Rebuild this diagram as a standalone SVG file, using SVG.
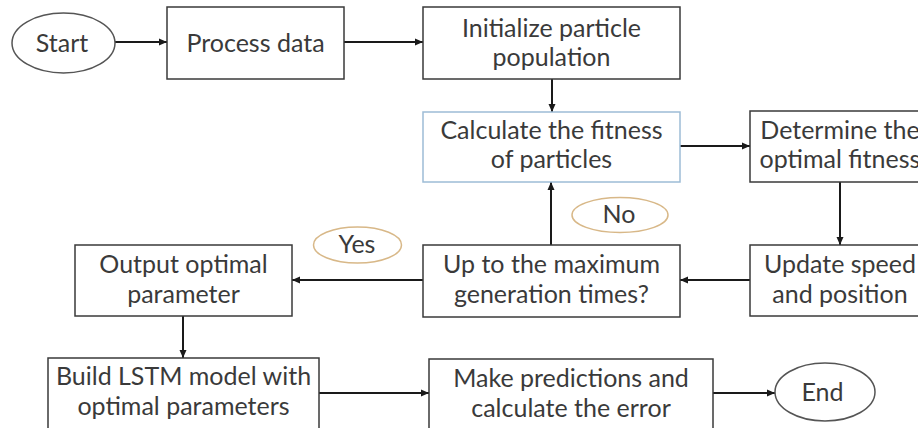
<svg xmlns="http://www.w3.org/2000/svg" width="918" height="428" viewBox="0 0 918 428">
<defs>
<style>
.box{fill:#fff;stroke:#3a3a3a;stroke-width:1.5}
.blue{stroke:#9dbcd6}
.term{fill:#fff;stroke:#555;stroke-width:1.5}
.cond{fill:#fff;stroke:#d8b888;stroke-width:1.5}
.t{font-family:Lato,"Open Sans","Noto Sans",sans-serif;font-size:25px;fill:#3a3a3a;text-anchor:middle}
.c{stroke:#1a1a1a;stroke-width:2;fill:none;marker-end:url(#ah)}
</style>
<marker id="ah" markerWidth="9" markerHeight="8" refX="8" refY="4" orient="auto" markerUnits="userSpaceOnUse">
<path d="M0,0.5 L8,4 L0,7.5 Z" fill="#1a1a1a"/>
</marker>
</defs>
<rect width="918" height="428" fill="#fff"/>
<g id="connectors">
<line class="c" x1="115" y1="42" x2="167" y2="42"/>
<line class="c" x1="344" y1="42" x2="423" y2="42"/>
<line class="c" x1="552" y1="79" x2="552" y2="112"/>
<line class="c" x1="680" y1="146" x2="750" y2="146"/>
<line class="c" x1="840" y1="182" x2="840" y2="245"/>
<line class="c" x1="750" y1="280" x2="680" y2="280"/>
<line class="c" x1="551" y1="245" x2="551" y2="182"/>
<line class="c" x1="423" y1="280" x2="292" y2="280"/>
<line class="c" x1="183" y1="316" x2="183" y2="358"/>
<line class="c" x1="319" y1="393" x2="429" y2="393"/>
<line class="c" x1="713" y1="393" x2="775" y2="393"/>
</g>
<g id="start"><ellipse class="term" cx="63.5" cy="43" rx="51.5" ry="30"/><text class="t" x="62" y="52">Start</text></g>
<g id="process"><rect class="box" x="167" y="7" width="177" height="72"/><text class="t" x="255.5" y="52">Process data</text></g>
<g id="init"><rect class="box" x="423" y="7" width="257" height="72"/><text class="t" x="551.5" y="37">Initialize particle</text><text class="t" x="551.5" y="66">population</text></g>
<g id="calc"><rect class="box blue" x="423" y="112" width="257" height="70"/><text class="t" x="551.5" y="139">Calculate the fitness</text><text class="t" x="551.5" y="168">of particles</text></g>
<g id="determine"><rect class="box" x="750" y="111" width="180" height="71"/><text class="t" x="840" y="139">Determine the</text><text class="t" x="840" y="168">optimal fitness</text></g>
<g id="update"><rect class="box" x="750" y="245" width="180" height="71"/><text class="t" x="840" y="273">Update speed</text><text class="t" x="840" y="303">and position</text></g>
<g id="maxgen"><rect class="box" x="423" y="245" width="257" height="72"/><text class="t" x="551.5" y="273">Up to the maximum</text><text class="t" x="551.5" y="303">generation times?</text></g>
<g id="no"><ellipse class="cond" cx="620" cy="215" rx="48" ry="17.5"/><text class="t" x="619" y="223">No</text></g>
<g id="yes"><ellipse class="cond" cx="357.5" cy="245" rx="44" ry="18"/><text class="t" x="357" y="253">Yes</text></g>
<g id="output"><rect class="box" x="75" y="245" width="217" height="71"/><text class="t" x="183.5" y="273">Output optimal</text><text class="t" x="183.5" y="303">parameter</text></g>
<g id="build"><rect class="box" x="48" y="358" width="271" height="76"/><text class="t" x="183.5" y="385">Build LSTM model with</text><text class="t" x="183.5" y="415">optimal parameters</text></g>
<g id="make"><rect class="box" x="429" y="359" width="284" height="76"/><text class="t" x="571" y="387">Make predictions and</text><text class="t" x="571" y="417">calculate the error</text></g>
<g id="end"><ellipse class="term" cx="825" cy="392" rx="50" ry="29"/><text class="t" x="822.5" y="401">End</text></g>
</svg>
